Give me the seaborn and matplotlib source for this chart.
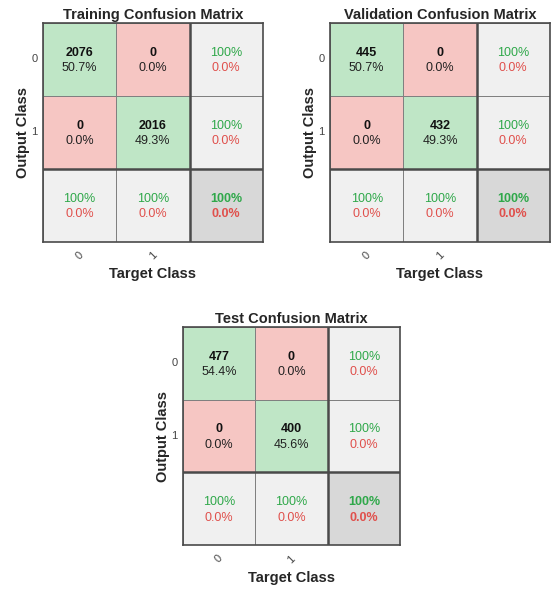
import numpy as np
import matplotlib
matplotlib.use("Agg")
import matplotlib.pyplot as plt
from matplotlib.colors import ListedColormap
import seaborn as sns

# Datos
class_labels = ['0', '1']
train_counts = [[2076, 0], [0, 2016]]
val_counts = [[445, 0], [0, 432]]
test_counts = [[477, 0], [0, 400]]
titles = ['Training Confusion Matrix', 'Validation Confusion Matrix', 'Test Confusion Matrix']

GREEN = '#bfe6c6'
RED = '#f6c6c3'
LIGHT = '#f0f0f0'
DARK = '#d8d8d8'
TXT_GREEN = '#2fa84a'
TXT_RED = '#e0504c'

sns.set_style('white')
plt.rcParams['font.family'] = ['Liberation Sans', 'DejaVu Sans']


def pct_text(v):
    return f"{v:.1f}%"


def plot_confusion(ax, counts, title):
    counts = np.array(counts)
    total = counts.sum()
    n = counts.shape[0]
    # codigos de color: 0 verde, 1 rojo, 2 gris claro, 3 gris oscuro
    codes = np.full((n + 1, n + 1), 2)
    for i in range(n):
        for j in range(n):
            codes[i, j] = 0 if i == j else 1
    codes[n, n] = 3
    sns.heatmap(codes, ax=ax, cmap=ListedColormap([GREEN, RED, LIGHT, DARK]),
                vmin=-0.5, vmax=3.5, cbar=False, linewidths=0.5,
                linecolor='#808080', square=False)
    ax.axhline(n, color='#4a4a4a', lw=1.8)
    ax.axvline(n, color='#4a4a4a', lw=1.8)
    for s in ax.spines.values():
        s.set_visible(True)
        s.set_color('#4a4a4a')
        s.set_linewidth(1.2)

    fs = 9
    for i in range(n):
        for j in range(n):
            ax.text(j + 0.5, i + 0.41, str(counts[i, j]), ha='center', va='center',
                    fontsize=fs, fontweight='bold', color='#111111')
            ax.text(j + 0.5, i + 0.62, pct_text(100 * counts[i, j] / total),
                    ha='center', va='center', fontsize=fs, color='#222222')
    # columna y fila de resumen
    for k in range(n):
        row_ok = 100 * counts[k, k] / counts[k].sum()
        col_ok = 100 * counts[k, k] / counts[:, k].sum()
        for (x, y, ok) in [(n + 0.5, k, row_ok), (k + 0.5, n, col_ok)]:
            ax.text(x, y + 0.41, f"{ok:.0f}%", ha='center', va='center',
                    fontsize=fs, color=TXT_GREEN)
            ax.text(x, y + 0.62, pct_text(100 - ok), ha='center', va='center',
                    fontsize=fs, color=TXT_RED)
    acc = 100 * np.trace(counts) / total
    ax.text(n + 0.5, n + 0.41, f"{acc:.0f}%", ha='center', va='center',
            fontsize=fs, fontweight='bold', color=TXT_GREEN)
    ax.text(n + 0.5, n + 0.62, pct_text(100 - acc), ha='center', va='center',
            fontsize=fs, fontweight='bold', color=TXT_RED)

    ax.set_xticks(np.arange(n) + 0.5)
    ax.set_xticklabels(class_labels, rotation=45, fontsize=8, color='#444444', ha='center')
    ax.set_yticks(np.arange(n) + 0.5)
    ax.set_yticklabels(class_labels, rotation=0, fontsize=8, color='#444444', va='center')
    ax.tick_params(axis='x', length=0, pad=6)
    ax.tick_params(axis='y', length=0, pad=4)
    ax.set_title(title, fontsize=10.5, fontweight='bold', pad=3)
    ax.set_xlabel('Target Class', fontsize=10.5, fontweight='bold', labelpad=4)
    ax.set_ylabel('Output Class', fontsize=10.5, fontweight='bold', labelpad=1)


fig = plt.figure(figsize=(5.51, 5.90), dpi=100)
ax1 = fig.add_axes([0.078, 0.590, 0.399, 0.371])
ax2 = fig.add_axes([0.599, 0.590, 0.399, 0.371])
ax3 = fig.add_axes([0.332, 0.076, 0.394, 0.370])

plot_confusion(ax1, train_counts, titles[0])
plot_confusion(ax2, val_counts, titles[1])
plot_confusion(ax3, test_counts, titles[2])

fig.savefig('out.png', dpi=100)
